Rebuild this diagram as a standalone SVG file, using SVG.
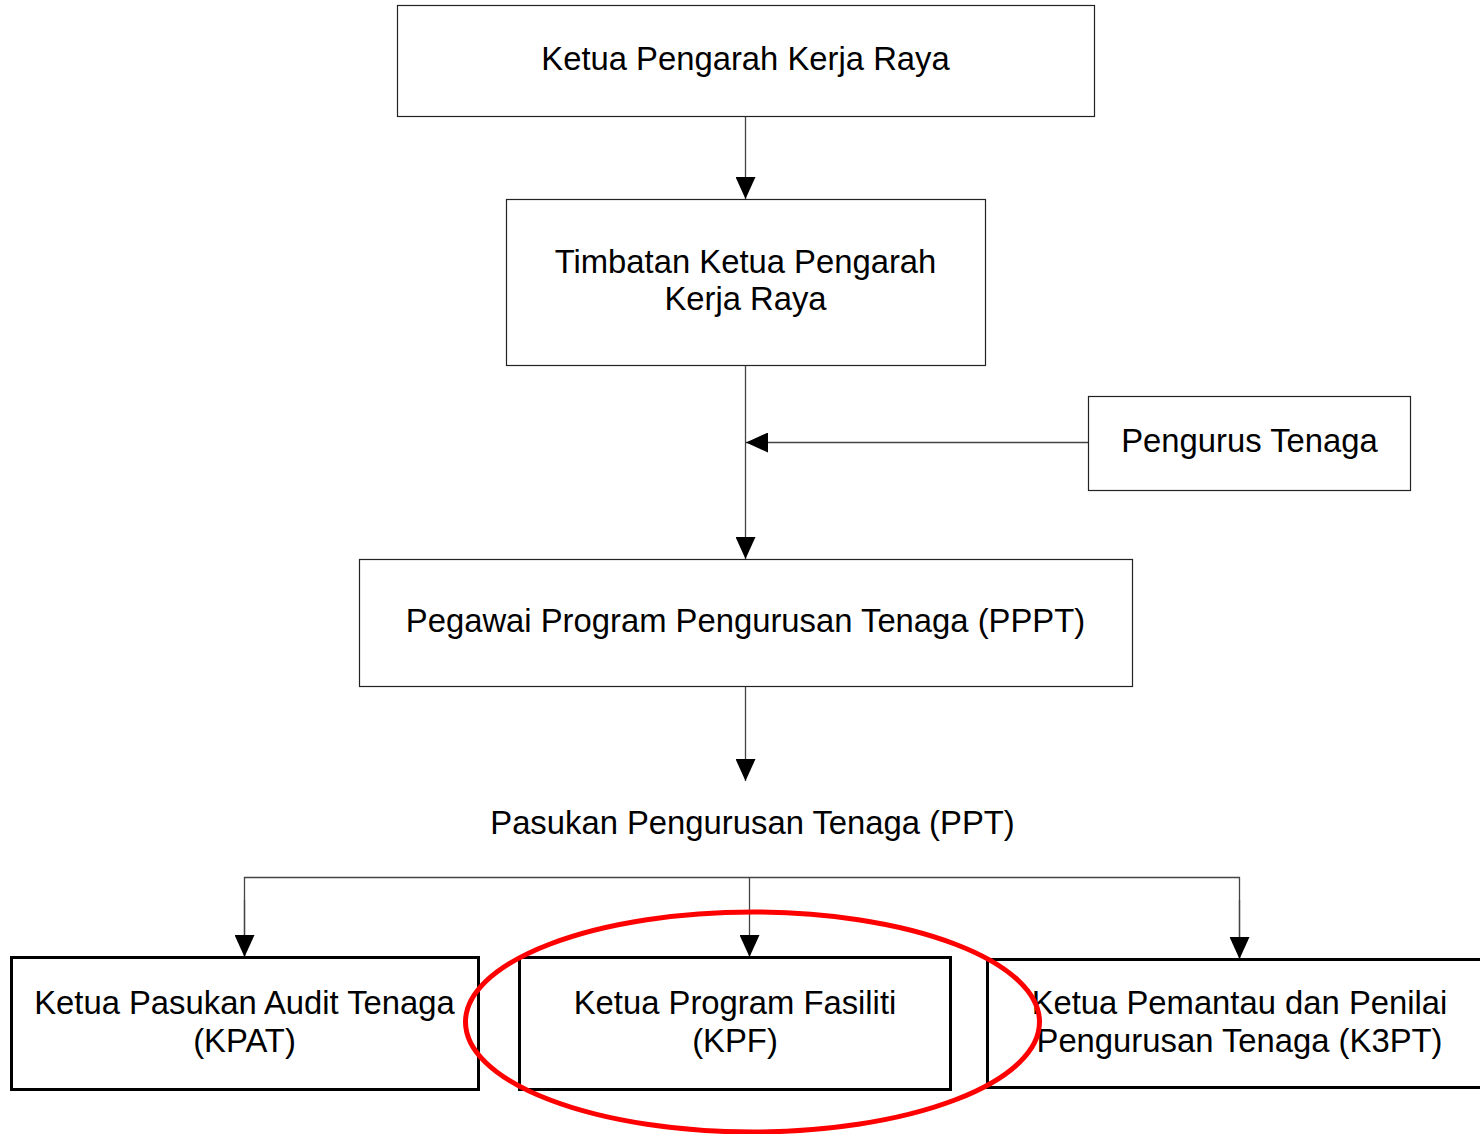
<svg xmlns="http://www.w3.org/2000/svg" width="1480" height="1134" viewBox="0 0 1480 1134">
  <style>
    .box { fill: #fff; stroke: #222; stroke-width: 1.2; }
    .boxb { fill: #fff; stroke: #000; stroke-width: 3; }
    .lbl { font-family: "Liberation Sans", Arial, sans-serif; font-size: 32.8px; fill: #000; text-anchor: middle; }
    .conn { fill: none; stroke: #444; stroke-width: 1.3; }
  </style>
  <defs>
    <marker id="arr" viewBox="0 0 22 20" refX="22" refY="10" markerWidth="22" markerHeight="20" markerUnits="userSpaceOnUse" orient="auto">
      <path d="M0,0 L22,10 L0,20 Z" fill="#000"/>
    </marker>
  </defs>
  <rect width="1480" height="1134" fill="#fff"/>

  <g id="connectors">
    <line class="conn" x1="745.5" y1="116" x2="745.5" y2="199" marker-end="url(#arr)"/>
    <line class="conn" x1="745.5" y1="365" x2="745.5" y2="559" marker-end="url(#arr)"/>
    <line class="conn" x1="1088" y1="442.5" x2="746" y2="442.5" marker-end="url(#arr)"/>
    <line class="conn" x1="745.5" y1="686" x2="745.5" y2="781" marker-end="url(#arr)"/>
    <polyline class="conn" points="244.5,957 244.5,877.5 1239.5,877.5 1239.5,959"/>
    <line class="conn" x1="244.5" y1="900" x2="244.5" y2="957" marker-end="url(#arr)"/>
    <line class="conn" x1="1239.5" y1="900" x2="1239.5" y2="959" marker-end="url(#arr)"/>
    <line class="conn" x1="749.5" y1="877.5" x2="749.5" y2="957" marker-end="url(#arr)"/>
  </g>

  <g id="n1">
    <rect class="box" x="397.5" y="5.5" width="697" height="111"/>
    <text class="lbl" x="745.5" y="70">Ketua Pengarah Kerja Raya</text>
  </g>
  <g id="n2">
    <rect class="box" x="506.5" y="199.5" width="479" height="166"/>
    <text class="lbl" x="745.5" y="273">Timbatan Ketua Pengarah</text>
    <text class="lbl" x="745.5" y="310">Kerja Raya</text>
  </g>
  <g id="n3">
    <rect class="box" x="1088.5" y="396.5" width="322" height="94"/>
    <text class="lbl" x="1249.5" y="452">Pengurus Tenaga</text>
  </g>
  <g id="n4">
    <rect class="box" x="359.5" y="559.5" width="773" height="127"/>
    <text class="lbl" x="745.5" y="632">Pegawai Program Pengurusan Tenaga (PPPT)</text>
  </g>
  <g id="n5">
    <text class="lbl" x="752.5" y="834">Pasukan Pengurusan Tenaga (PPT)</text>
  </g>
  <g id="n6">
    <rect class="boxb" x="11.5" y="957.5" width="467" height="132"/>
    <text class="lbl" x="244.5" y="1014">Ketua Pasukan Audit Tenaga</text>
    <text class="lbl" x="244.5" y="1052">(KPAT)</text>
  </g>
  <g id="n7">
    <rect class="boxb" x="519.5" y="957.5" width="431" height="132"/>
    <text class="lbl" x="735" y="1014">Ketua Program Fasiliti</text>
    <text class="lbl" x="735" y="1052">(KPF)</text>
  </g>
  <g id="n8">
    <rect class="boxb" x="987.5" y="959.5" width="500" height="128"/>
    <text class="lbl" x="1239.5" y="1014">Ketua Pemantau dan Penilai</text>
    <text class="lbl" x="1239.5" y="1052">Pengurusan Tenaga (K3PT)</text>
  </g>
  <g id="highlight">
    <ellipse cx="752.5" cy="1022" rx="287" ry="110" fill="none" stroke="#f00" stroke-width="5"/>
  </g>
</svg>
